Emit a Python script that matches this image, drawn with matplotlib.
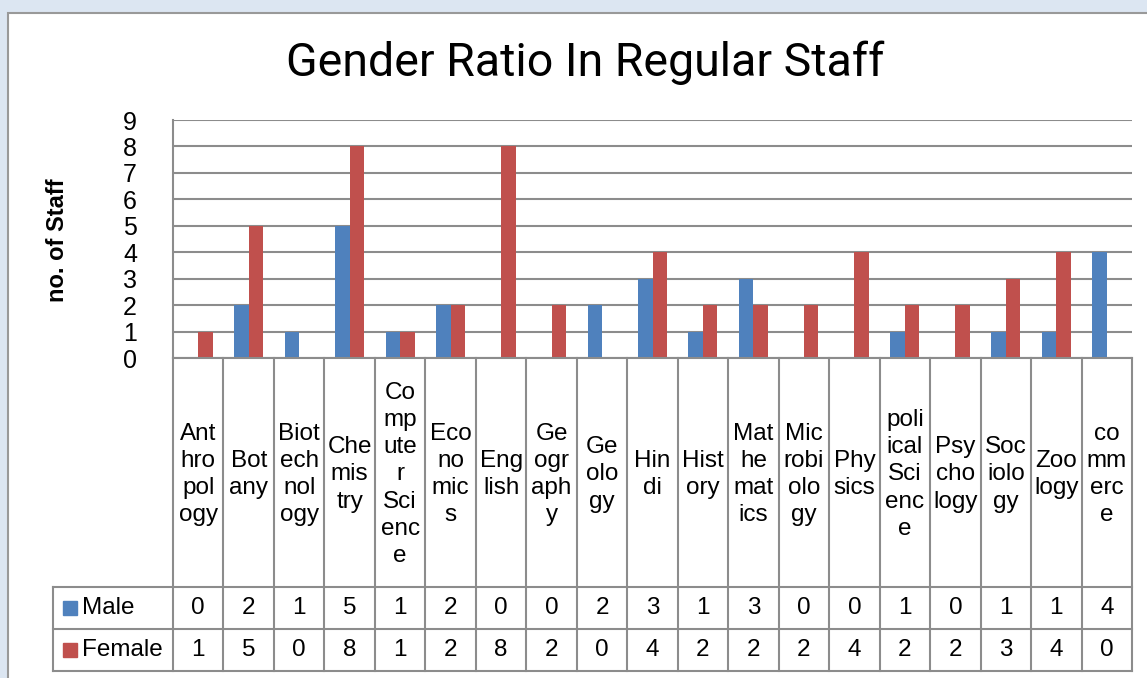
import numpy as np
import matplotlib.pyplot as plt
from matplotlib.patches import Rectangle

plt.rcParams['font.family'] = ['Liberation Sans', 'DejaVu Sans']

# data
subjects = ["Anthropology", "Botany", "Biotechnology", "Chemistry", "Computer Science",
            "Economics", "English", "Geography", "Geology", "Hindi", "History",
            "Mathematics", "Microbiology", "Physics", "polical Science", "Psychology",
            "Sociology", "Zoology", "commerce"]
# category labels wrapped the way the table shows them
cat_labels = ["Ant\nhro\npol\nogy", "Bot\nany", "Biot\nech\nnol\nogy", "Che\nmis\ntry",
              "Co\nmp\nute\nr\nSci\nenc\ne", "Eco\nno\nmic\ns", "Eng\nlish",
              "Ge\nogr\naph\ny", "Ge\nolo\ngy", "Hin\ndi", "Hist\nory",
              "Mat\nhe\nmat\nics", "Mic\nrobi\nolo\ngy", "Phy\nsics",
              "poli\nical\nSci\nenc\ne", "Psy\ncho\nlogy", "Soc\niolo\ngy",
              "Zoo\nlogy", "co\nmm\nerc\ne"]
male = [0, 2, 1, 5, 1, 2, 0, 0, 2, 3, 1, 3, 0, 0, 1, 0, 1, 1, 4]
female = [1, 5, 0, 8, 1, 2, 8, 2, 0, 4, 2, 2, 2, 4, 2, 2, 3, 4, 0]
series = ["Male", "Female"]
y_ticks = list(range(10))

blue = '#4f81bd'
red = '#c0504d'
grey = '#8c8c8c'

W, H = 1147, 678
fig = plt.figure(figsize=(W / 100, H / 100), dpi=100)
fig.patch.set_facecolor('#dce6f2')

def fx(p):
    return p / W

def fy(p):
    return 1 - p / H

# white chart area with grey frame
fig.patches.append(Rectangle((fx(8), -0.01), 1.0, fy(13) + 0.01, transform=fig.transFigure,
                             facecolor='white', edgecolor='#999999', lw=1.5, zorder=-10))

# plot area
ax = fig.add_axes([fx(173), fy(358), fx(1132) - fx(173), fy(120) - fy(358)])
n = len(subjects)
x = np.arange(n)
bw = 0.287
ax.bar(x - bw / 2, male, bw, color=blue, edgecolor='none', zorder=3)
ax.bar(x + bw / 2, female, bw, color=red, edgecolor='none', zorder=3)
ax.set_xlim(-0.5, n - 0.5)
ax.set_ylim(0, 9)
ax.set_yticks(y_ticks)
ax.set_xticks([])
ax.grid(axis='y', color=grey, lw=1.5, zorder=0)
ax.set_axisbelow(True)
for s in ['top', 'right', 'bottom']:
    ax.spines[s].set_visible(False)
ax.spines['left'].set_color(grey)
ax.spines['left'].set_linewidth(1.5)
ax.tick_params(axis='y', length=0, pad=26, labelsize=18)
ax.set_facecolor('none')

fig.text(fx(585), fy(63), "Gender Ratio In Regular Staff", fontsize=33.5, family='Roboto',
         ha='center', va='center')
fig.text(fx(58), fy(240), "no. of Staff", rotation=90, fontsize=17, fontweight='bold',
         ha='center', va='center')

# data table under the chart
tax = fig.add_axes([fx(53), fy(672), fx(1132) - fx(53), fy(358) - fy(672)])
colw = (1132 - 173) / n
left = -0.5 - (173 - 53) / colw
tax.set_xlim(left, n - 0.5)
tax.set_ylim(314, 0)
tax.axis('off')
rows = [0, 229, 271, 313]
kw = dict(color=grey, lw=1.5, clip_on=False, solid_capstyle='projecting')
for k in range(n + 1):
    tax.plot([k - 0.5, k - 0.5], [rows[0], rows[3]], **kw)
tax.plot([-0.5, n - 0.5], [rows[0], rows[0]], **kw)
for r in rows[1:]:
    tax.plot([left, n - 0.5], [r, r], **kw)
tax.plot([left, left], [rows[1], rows[3]], **kw)

for i in range(n):
    tax.text(i, (rows[0] + rows[1]) / 2 + 2, cat_labels[i], ha='center', va='center',
             fontsize=17.5, linespacing=1.3)
    tax.text(i, (rows[1] + rows[2]) / 2, str(male[i]), ha='center', va='center', fontsize=17.5)
    tax.text(i, (rows[2] + rows[3]) / 2, str(female[i]), ha='center', va='center', fontsize=17.5)

for name, col, r0, r1 in [(series[0], blue, rows[1], rows[2]), (series[1], red, rows[2], rows[3])]:
    yc = (r0 + r1) / 2
    tax.plot([left + (70 - 53) / colw], [yc], 's', ms=10, color=col, clip_on=False)
    tax.text(left + (82 - 53) / colw, yc, name, ha='left', va='center', fontsize=17.5)

fig.savefig('out.png', dpi=100, facecolor=fig.get_facecolor())
